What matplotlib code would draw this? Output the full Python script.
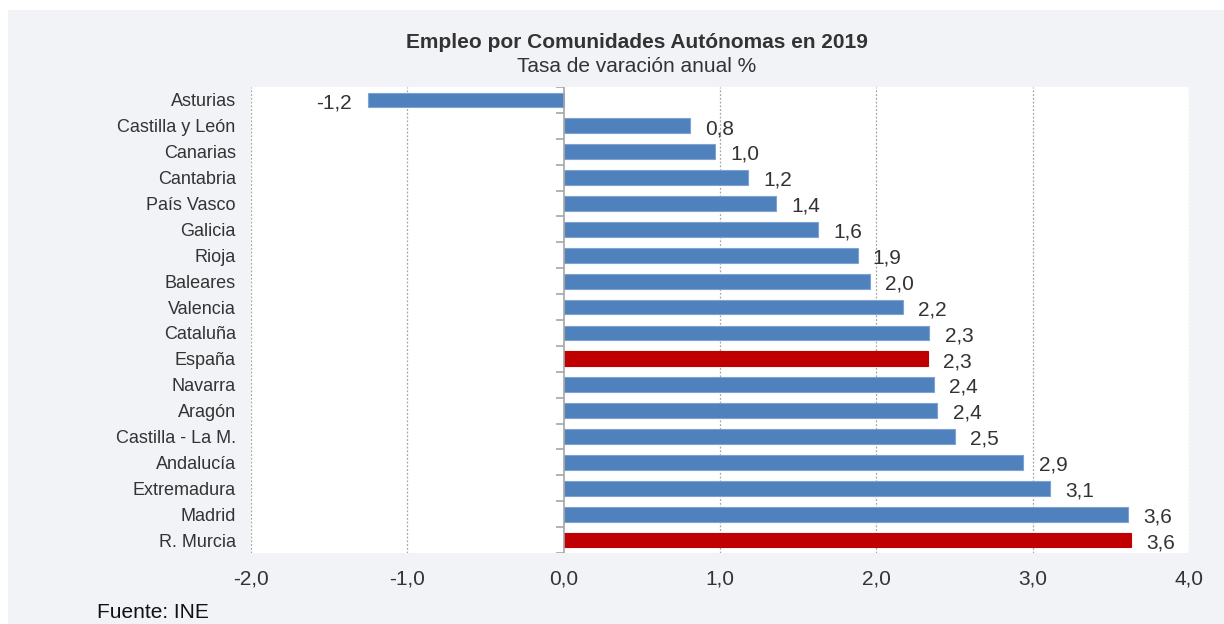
import matplotlib
matplotlib.use('Agg')
import matplotlib.pyplot as plt
from matplotlib.patches import Rectangle

plt.rcParams['font.family'] = ['Liberation Sans', 'DejaVu Sans']

# Datos: tasa de variacion anual del empleo 2019 (%)
comunidades = ['Asturias', 'Castilla y León', 'Canarias', 'Cantabria', 'País Vasco',
               'Galicia', 'Rioja', 'Baleares', 'Valencia', 'Cataluña', 'España',
               'Navarra', 'Aragón', 'Castilla - La M.', 'Andalucía', 'Extremadura',
               'Madrid', 'R. Murcia']
valores = [-1.25, 0.81, 0.97, 1.18, 1.36, 1.63, 1.88, 1.96, 2.17, 2.34, 2.33,
           2.37, 2.39, 2.50, 2.94, 3.11, 3.61, 3.63]
destacados = ['España', 'R. Murcia']
xticks = [-2, -1, 0, 1, 2, 3, 4]

azul = '#4f81bd'
rojo = '#c00000'
texto = '#333333'
fondo = '#f2f3f7'

fig = plt.figure(figsize=(12.24, 6.24), dpi=100)
fig.patch.set_facecolor('white')
# panel gris de fondo
fig.patches.append(Rectangle((8 / 1224, 0), 1 - 8 / 1224, 1 - 10 / 624,
                             transform=fig.transFigure, facecolor=fondo,
                             edgecolor='none', zorder=-10))

ax = fig.add_axes([251 / 1224, 1 - 553 / 624, (1189 - 251) / 1224, (553 - 87) / 624])
ax.set_facecolor('white')

pos = list(range(len(comunidades)))
colores = [rojo if c in destacados else azul for c in comunidades]
bordes = [rojo if c in destacados else '#7fa3d1' for c in comunidades]
ax.barh(pos, valores, height=0.57, color=colores, edgecolor=bordes, linewidth=0.8, zorder=3)

# etiquetas de valor
for p, v in zip(pos, valores):
    etiqueta = f'{v:.1f}'.replace('.', ',')
    if v < 0:
        ax.annotate(etiqueta, (v, p), xytext=(-12, -2), textcoords='offset points',
                    ha='right', va='center', fontsize=15, color=texto)
    else:
        ax.annotate(etiqueta, (v, p), xytext=(11, -2), textcoords='offset points',
                    ha='left', va='center', fontsize=15, color=texto)

ax.set_xlim(-2, 4)
ax.set_ylim(len(comunidades) - 0.5, -0.5)

# rejilla punteada
for x in xticks:
    if x != 0:
        ax.axvline(x, color='#a6a6a6', linestyle=(0, (1.5, 1.5)), linewidth=0.9, zorder=1)
ax.axvline(0, color='#a6a6a6', linewidth=1.2, zorder=4)
ax.hlines([i - 0.5 for i in range(len(comunidades) + 1)], -0.05, 0,
          color='#a6a6a6', linewidth=1.2, zorder=4)

ax.set_xticks(xticks)
ax.set_xticklabels([f'{x:.1f}'.replace('.', ',') for x in xticks])
ax.set_yticks(pos)
ax.set_yticklabels(comunidades)
ax.tick_params(axis='x', length=0, pad=12, labelsize=15, colors=texto)
ax.tick_params(axis='y', length=0, pad=11, labelsize=13, colors=texto)
for s in ax.spines.values():
    s.set_visible(False)

fig.text(637 / 1224, 1 - 43 / 624, 'Empleo por Comunidades Autónomas en 2019',
         ha='center', va='center', fontsize=15, fontweight='bold', color=texto)
fig.text(637 / 1224, 1 - 67 / 624, 'Tasa de varación anual %',
         ha='center', va='center', fontsize=15, color=texto)
fig.text(97 / 1224, 1 - 612 / 624, 'Fuente: INE', ha='left', va='center',
         fontsize=15, color='#111111')

plt.savefig('out.png', dpi=100, facecolor=fig.get_facecolor())
